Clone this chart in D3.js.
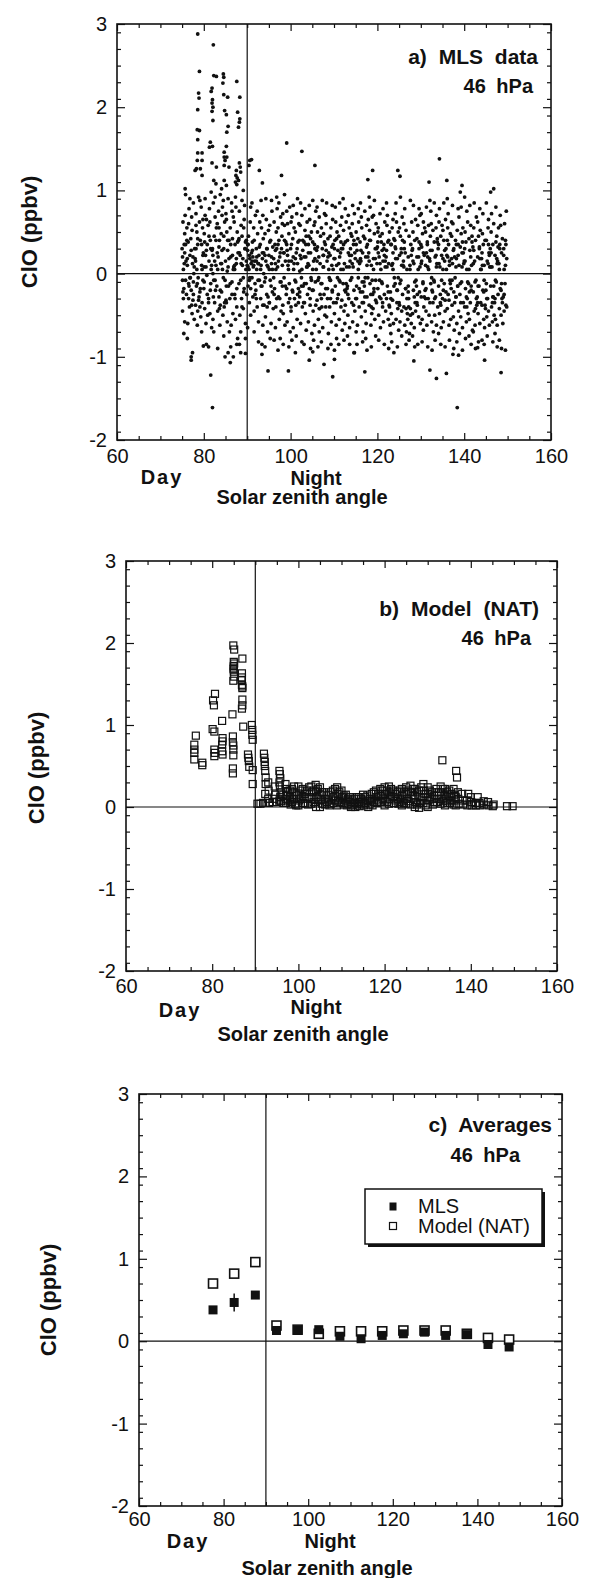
<!DOCTYPE html>
<html><head><meta charset="utf-8">
<script src="https://cdn.jsdelivr.net/npm/d3@7/dist/d3.min.js"></script>
<style>
html,body{margin:0;padding:0;background:#fff;}
svg{display:block;}
text{font-family:"Liberation Sans",Arial,Helvetica,sans-serif;fill:#111;}
</style></head><body>
<svg id="chart" width="593" height="1578"></svg>
<script>
// ---------------- DATA ----------------
const xTickValues = [60, 80, 100, 120, 140, 160];
const yTickValues = [-2, -1, 0, 1, 2, 3];
const yAxisTitle = "ClO (ppbv)";
const xAxisTitle = "Solar zenith angle";
const dayLabel = "Day", nightLabel = "Night";
const panelTitles = ["a) MLS data", "b) Model (NAT)", "c) Averages"];
const pressureLabel = "46 hPa";
const legendLabels = ["MLS", "Model (NAT)"];

// a) MLS individual retrievals, main band: [SZA in tenths of degree, ClO in hundredths of ppbv]
const mlsBand = [
[750,30],[751,-45],[752,62],[753,5],[754,-18],[755,35],[756,-58],[757,70],[758,-8],[759,15],[753,-30],[756,48],[754,-72],[758,95],[751,20],
[760,-25],[761,55],[762,10],[763,-60],[764,38],[765,-12],[766,78],[767,-40],[768,22],[769,-5],[762,-78],[765,60],[768,90],
[770,42],[771,-20],[772,68],[773,-48],[774,12],[775,-32],[776,85],[777,0],[778,-55],[779,30],[773,52],[776,-10],[771,-100],[774,-95],
[780,18],[781,-38],[782,72],[783,-15],[784,50],[785,-62],[786,35],[787,-5],[788,92],[789,-28],[782,58],[786,-45],[784,5],
[790,62],[791,-22],[792,40],[793,-52],[794,80],[795,10],[796,-35],[797,55],[798,-8],[799,25],[791,88],[795,-70],[798,65],
[800,-18],[801,48],[802,-42],[803,90],[804,22],[805,-60],[806,65],[807,-2],[808,35],[809,-50],[803,70],[806,-85],[801,8],
[810,58],[811,-30],[812,15],[813,78],[814,-48],[815,40],[816,-12],[817,98],[818,-65],[819,28],[814,62],[811,-88],[817,5],
[820,30],[821,-55],[822,85],[823,-8],[824,45],[825,-35],[826,68],[827,-20],[828,10],[829,55],[823,-70],[826,92],[821,0],
[830,-15],[831,60],[832,-45],[833,20],[834,75],[835,-28],[836,40],[837,-62],[838,95],[839,12],[832,-90],[835,55],[838,-38],
[840,48],[841,-22],[842,70],[843,5],[844,-50],[845,88],[846,30],[847,-40],[848,62],[849,-8],[843,80],[846,-75],[841,102],
[850,15],[851,72],[852,-35],[853,50],[854,-58],[855,28],[856,90],[857,-15],[858,40],[859,-70],[852,65],[856,-95],[854,3],
[860,-30],[861,55],[862,20],[863,-62],[864,85],[865,-10],[866,42],[867,-48],[868,68],[869,8],[862,-88],[865,75],[868,-100],
[870,62],[871,-25],[872,35],[873,-55],[874,80],[875,12],[876,-40],[877,50],[878,-78],[879,25],[873,92],[876,-85],[871,5],
[880,40],[881,-12],[882,75],[883,-50],[884,22],[885,-70],[886,58],[887,-30],[888,88],[889,10],[882,-85],[885,-95],[888,45],
[890,18],[891,-42],[892,55],[893,-18],[894,82],[895,30],[896,-60],[897,5],[898,40],[899,-25],[893,65],[896,-78],[891,100],
[900,10],[901,28],[902,-15],[903,45],[904,5],[905,-35],[906,18],[907,62],[908,-50],[909,12],[902,35],[905,-8],[908,80],[901,-65],
[910,25],[911,-5],[912,38],[913,-28],[914,8],[915,55],[916,-45],[917,15],[918,-12],[919,70],[913,20],[916,-70],[911,85],
[920,-20],[921,30],[922,5],[923,-40],[924,48],[925,12],[926,-58],[927,22],[928,-8],[929,62],[923,75],[926,-82],[921,15],
[930,35],[931,-30],[932,10],[933,55],[934,-15],[935,25],[936,-62],[937,42],[938,0],[939,-38],[932,88],[936,70],[934,-85],
[940,-10],[941,48],[942,-52],[943,15],[944,65],[945,-25],[946,30],[947,-70],[948,8],[949,52],[943,90],[946,-40],[941,-88],
[950,22],[951,-35],[952,58],[953,-8],[954,40],[955,-60],[956,12],[957,75],[958,-22],[959,32],[953,-78],[956,88],[951,5],
[960,-42],[961,18],[962,62],[963,-18],[964,35],[965,-65],[966,5],[967,50],[968,-30],[969,78],[962,-80],[965,28],[968,92],
[970,8],[971,55],[972,-28],[973,40],[974,-55],[975,20],[976,-10],[977,68],[978,-45],[979,30],[973,85],[976,-78],[971,-92],
[980,45],[981,-15],[982,72],[983,-48],[984,25],[985,-5],[986,58],[987,-62],[988,15],[989,38],[983,-85],[986,95],[981,60],
[990,-25],[991,35],[992,-58],[993,60],[994,10],[995,-35],[996,48],[997,-12],[998,80],[999,-70],[993,22],[996,-88],[991,75],
[1000,30],[1001,-45],[1002,15],[1003,68],[1004,-20],[1005,42],[1006,-65],[1007,5],[1008,55],[1009,-30],[1003,-80],[1006,82],[1001,62],
[1010,-8],[1011,50],[1012,-38],[1013,25],[1014,72],[1015,-55],[1016,12],[1017,38],[1018,-18],[1019,60],[1013,-75],[1016,90],[1011,-95],
[1020,40],[1021,-22],[1022,58],[1023,-60],[1024,18],[1025,-5],[1026,70],[1027,-40],[1028,28],[1029,-15],[1023,85],[1026,-82],[1021,3],
[1030,-35],[1031,20],[1032,-12],[1033,52],[1034,-48],[1035,35],[1036,-68],[1037,8],[1038,62],[1039,-25],[1033,78],[1036,45],[1031,-85],
[1040,12],[1041,-58],[1042,45],[1043,-18],[1044,65],[1045,-38],[1046,25],[1047,-5],[1048,50],[1049,-72],[1043,82],[1046,-90],[1041,35],
[1050,-20],[1051,38],[1052,-45],[1053,15],[1054,58],[1055,-62],[1056,30],[1057,-10],[1058,75],[1059,5],[1053,-80],[1056,62],[1051,88],
[1060,28],[1061,-32],[1062,50],[1063,-8],[1064,-55],[1065,20],[1066,68],[1067,-42],[1068,12],[1069,45],[1063,-88],[1066,-70],[1061,80],
[1070,-12],[1071,55],[1072,-40],[1073,30],[1074,-65],[1075,8],[1076,48],[1077,-25],[1078,72],[1079,-50],[1073,88],[1076,22],[1071,-82],
[1080,35],[1081,-18],[1082,60],[1083,-52],[1084,15],[1085,-30],[1086,42],[1087,-72],[1088,25],[1089,-5],[1083,85],[1086,-90],[1081,70],
[1090,-40],[1091,22],[1092,-8],[1093,55],[1094,-58],[1095,32],[1096,-20],[1097,65],[1098,5],[1099,-35],[1093,-85],[1096,82],[1091,45],
[1100,18],[1101,-48],[1102,40],[1103,-15],[1104,62],[1105,-62],[1106,10],[1107,50],[1108,-30],[1109,28],[1103,80],[1106,-78],[1101,-92],
[1110,-25],[1111,45],[1112,-55],[1113,20],[1114,-10],[1115,58],[1116,-40],[1117,30],[1118,68],[1119,-68],[1113,85],[1116,5],[1111,-85],
[1120,30],[1121,-12],[1122,52],[1123,-45],[1124,12],[1125,-60],[1126,38],[1127,-22],[1128,62],[1129,8],[1123,-80],[1126,78],[1121,90],
[1130,-18],[1131,40],[1132,-50],[1133,25],[1134,-30],[1135,55],[1136,-65],[1137,15],[1138,-8],[1139,48],[1133,70],[1136,-85],[1131,-75],
[1140,22],[1141,-35],[1142,60],[1143,-58],[1144,8],[1145,35],[1146,-20],[1147,72],[1148,-45],[1149,18],[1143,82],[1146,-95],[1141,45],
[1150,-30],[1151,50],[1152,-15],[1153,28],[1154,-62],[1155,42],[1156,-5],[1157,62],[1158,-40],[1159,12],[1153,-85],[1156,78],[1151,-70],
[1160,38],[1161,-22],[1162,15],[1163,-52],[1164,55],[1165,-35],[1166,25],[1167,-70],[1168,45],[1169,-10],[1163,68],[1166,-82],[1161,85],
[1170,-15],[1171,42],[1172,-45],[1173,20],[1174,-60],[1175,58],[1176,-28],[1177,35],[1178,-5],[1179,65],[1173,-78],[1176,-92],[1171,75],
[1180,25],[1181,-38],[1182,52],[1183,-12],[1184,40],[1185,-62],[1186,10],[1187,-48],[1188,68],[1189,-25],[1183,80],[1186,-88],[1181,92],
[1190,-42],[1191,18],[1192,-22],[1193,48],[1194,-55],[1195,30],[1196,-8],[1197,60],[1198,-35],[1199,12],[1193,88],[1196,-75],[1191,70],
[1200,32],[1201,-18],[1202,55],[1203,-50],[1204,20],[1205,-28],[1206,45],[1207,-65],[1208,5],[1209,38],[1203,-80],[1206,72],[1201,50],
[1210,-10],[1211,48],[1212,-40],[1213,15],[1214,-58],[1215,35],[1216,-25],[1217,62],[1218,8],[1219,-45],[1213,78],[1216,-85],[1211,28],
[1220,20],[1221,-30],[1222,58],[1223,-15],[1224,38],[1225,-55],[1226,12],[1227,-38],[1228,50],[1229,-62],[1223,70],[1226,-90],[1221,85],
[1230,-22],[1231,35],[1232,-48],[1233,10],[1234,55],[1235,-32],[1236,25],[1237,-60],[1238,42],[1239,-5],[1233,-82],[1236,65],[1231,-72],
[1240,40],[1241,-12],[1242,30],[1243,-55],[1244,62],[1245,-20],[1246,18],[1247,-42],[1248,50],[1249,-68],[1243,85],[1246,-88],[1241,72],
[1250,-35],[1251,22],[1252,-58],[1253,45],[1254,-8],[1255,30],[1256,-45],[1257,68],[1258,-25],[1259,10],[1253,92],[1256,-75],[1251,55],
[1260,15],[1261,-40],[1262,38],[1263,-62],[1264,25],[1265,-18],[1266,52],[1267,-70],[1268,5],[1269,-48],[1263,78],[1266,-85],[1261,60],
[1270,-55],[1271,20],[1272,-30],[1273,45],[1274,-72],[1275,10],[1276,-42],[1277,35],[1278,-60],[1279,62],[1273,-80],[1276,88],[1271,-15],
[1280,28],[1281,-48],[1282,50],[1283,-20],[1284,12],[1285,-65],[1286,40],[1287,-35],[1288,65],[1289,-8],[1283,82],[1286,-88],[1281,-75],
[1290,-15],[1291,42],[1292,-38],[1293,58],[1294,5],[1295,-52],[1296,30],[1297,-22],[1298,70],[1299,-60],[1293,-85],[1296,78],[1291,20],
[1300,35],[1301,-28],[1302,15],[1303,-55],[1304,48],[1305,-10],[1306,62],[1307,-40],[1308,22],[1309,55],[1303,-82],[1306,-68],[1301,72],
[1310,-20],[1311,50],[1312,-45],[1313,25],[1314,-62],[1315,38],[1316,8],[1317,-30],[1318,58],[1319,-50],[1313,80],[1316,-88],[1311,10],
[1320,18],[1321,-35],[1322,45],[1323,-12],[1324,60],[1325,-58],[1326,28],[1327,-22],[1328,52],[1329,-70],[1323,75],[1326,-92],[1321,88],
[1330,-8],[1331,38],[1332,-50],[1333,20],[1334,-28],[1335,55],[1336,-62],[1337,12],[1338,42],[1339,-40],[1333,-80],[1336,70],[1331,85],
[1340,30],[1341,-15],[1342,62],[1343,-48],[1344,8],[1345,-35],[1346,45],[1347,-65],[1348,22],[1349,58],[1343,78],[1346,-85],[1341,-72],
[1350,-30],[1351,18],[1352,-58],[1353,40],[1354,-12],[1355,28],[1356,-45],[1357,65],[1358,-22],[1359,5],[1353,85],[1356,-88],[1351,52],
[1360,22],[1361,-42],[1362,55],[1363,-25],[1364,35],[1365,-62],[1366,15],[1367,-8],[1368,48],[1369,-55],[1363,72],[1366,-80],[1361,90],
[1370,-18],[1371,45],[1372,-38],[1373,12],[1374,60],[1375,-52],[1376,30],[1377,-68],[1378,20],[1379,-5],[1373,82],[1376,-90],[1371,62],
[1380,40],[1381,-28],[1382,18],[1383,-60],[1384,52],[1385,-15],[1386,35],[1387,-45],[1388,68],[1389,-72],[1383,-82],[1386,78],[1381,8],
[1390,-25],[1391,32],[1392,-52],[1393,48],[1394,-10],[1395,25],[1396,-65],[1397,55],[1398,-35],[1399,12],[1393,80],[1396,-92],[1391,98],
[1400,15],[1401,-40],[1402,50],[1403,-18],[1404,38],[1405,-58],[1406,5],[1407,-30],[1408,62],[1409,-48],[1403,-78],[1406,75],[1401,92],
[1410,-12],[1411,42],[1412,-55],[1413,28],[1414,-35],[1415,58],[1416,-20],[1417,10],[1418,45],[1419,-68],[1413,82],[1416,-85],[1411,-75],
[1420,32],[1421,-22],[1422,55],[1423,-45],[1424,15],[1425,-62],[1426,40],[1427,-8],[1428,68],[1429,-38],[1423,85],[1426,-90],[1421,-70],
[1430,-28],[1431,20],[1432,-48],[1433,45],[1434,-15],[1435,30],[1436,-60],[1437,52],[1438,-35],[1439,5],[1433,-82],[1436,78],[1431,62],
[1440,18],[1441,-38],[1442,48],[1443,-20],[1444,35],[1445,-55],[1446,10],[1447,-65],[1448,40],[1449,-42],[1443,72],[1446,-85],[1441,-80],
[1450,-20],[1451,40],[1452,-52],[1453,15],[1454,-30],[1455,55],[1456,-45],[1457,25],[1458,-62],[1459,8],[1453,-75],[1456,65],[1451,85],
[1460,30],[1461,-15],[1462,50],[1463,-40],[1464,8],[1465,-58],[1466,35],[1467,-28],[1468,60],[1469,-50],[1463,72],[1466,-82],[1461,98],
[1470,-35],[1471,22],[1472,-55],[1473,38],[1474,-10],[1475,45],[1476,-62],[1477,15],[1478,-25],[1479,55],[1473,80],[1476,-88],[1471,-72],
[1480,12],[1481,-42],[1482,35],[1483,-18],[1484,58],[1485,-50],[1486,25],[1487,-30],[1488,42],[1489,-60],[1483,70],[1486,-90],[1481,-80],
[1490,-28],[1491,30],[1492,-45],[1493,60],[1494,-12],[1495,40],[1496,-38],[1497,75],[1498,18],[1495,-92],[1492,5]
];
// a) MLS denser core of the band (same units)
const mlsCore = [
[755,12],[752,-22],[758,35],[751,-8],[756,25],[765,-30],[762,18],[768,-5],[761,40],[766,-15],
[775,20],[772,-38],[778,8],[771,28],[776,-25],[785,-12],[782,30],[788,-32],[781,15],[786,42],
[795,35],[792,-18],[798,22],[791,-40],[796,5],[805,8],[802,38],[808,-25],[801,-10],[806,28],
[815,-20],[812,45],[818,10],[811,-35],[816,30],[825,15],[822,-28],[828,40],[821,22],[826,-8],
[835,32],[832,5],[838,-20],[831,25],[836,-42],[845,-5],[842,28],[848,-35],[841,12],[846,45],
[855,40],[852,-15],[858,18],[851,-32],[856,8],[865,-25],[862,35],[868,5],[861,-12],[866,22],
[875,18],[872,-30],[878,38],[871,10],[876,-18],[885,-8],[882,25],[888,-40],[881,42],[886,12],
[895,30],[892,-22],[898,15],[891,-5],[896,38],[905,22],[902,8],[908,-18],[901,35],[906,-5],
[915,10],[912,28],[918,-25],[911,15],[916,40],[925,-8],[922,20],[928,32],[921,-30],[926,12],
[935,18],[932,-15],[938,25],[931,5],[936,-38],[945,30],[942,-5],[948,-28],[941,22],[946,10],
[955,-15],[952,38],[958,5],[951,-35],[956,20],[965,12],[962,-25],[968,30],[961,-5],[966,-40],
[975,-30],[972,15],[978,-10],[971,35],[976,25],[985,25],[982,-38],[988,-15],[981,10],[986,40],
[995,5],[992,28],[998,-30],[991,-18],[996,15],[1005,-22],[1002,35],[1008,12],[1001,-40],[1006,20],
[1015,30],[1012,-10],[1018,-35],[1011,18],[1016,-25],[1025,-15],[1022,22],[1028,40],[1021,-28],[1026,5],
[1035,20],[1032,-35],[1038,8],[1031,38],[1036,-12],[1045,-30],[1042,10],[1048,-8],[1041,25],[1046,42],
[1055,35],[1052,-20],[1058,-38],[1051,5],[1056,18],[1065,-5],[1062,32],[1068,-25],[1061,15],[1066,-42],
[1075,22],[1072,-12],[1078,38],[1071,-30],[1076,8],[1085,-18],[1082,28],[1088,5],[1081,-40],[1086,20],
[1095,10],[1092,-30],[1098,35],[1091,-8],[1096,-22],[1105,-35],[1102,18],[1108,-5],[1101,30],[1106,42],
[1115,25],[1112,-8],[1118,-32],[1111,12],[1116,38],[1125,-20],[1122,35],[1128,-12],[1121,5],[1126,-38],
[1135,8],[1132,-25],[1138,30],[1131,-15],[1136,22],[1145,-38],[1142,12],[1148,25],[1141,-5],[1146,40],
[1155,15],[1152,-30],[1158,-18],[1151,35],[1156,5],[1165,-10],[1162,28],[1168,-35],[1161,18],[1166,-22],
[1175,32],[1172,-5],[1178,20],[1171,-28],[1176,10],[1185,-25],[1182,40],[1188,-8],[1181,15],[1186,-40],
[1195,18],[1192,-18],[1198,30],[1191,5],[1196,-32],[1205,-8],[1202,25],[1208,-30],[1201,38],[1206,12],
[1215,30],[1212,-35],[1218,15],[1211,-12],[1216,22],[1225,-22],[1222,8],[1228,-40],[1221,28],[1226,40],
[1235,12],[1232,35],[1238,-15],[1231,-30],[1236,5],[1245,-35],[1242,18],[1248,-5],[1241,32],[1246,-20],
[1255,25],[1252,-12],[1258,40],[1251,-38],[1256,10],[1265,-18],[1262,30],[1268,-30],[1261,8],[1266,-42],
[1275,5],[1272,-40],[1278,22],[1271,-22],[1276,-50],[1285,-28],[1282,15],[1288,-45],[1281,30],[1286,-10],
[1295,20],[1292,-25],[1298,8],[1291,-35],[1296,38],[1305,-12],[1302,32],[1308,-28],[1301,12],[1306,25],
[1315,35],[1312,-18],[1318,5],[1311,-30],[1316,20],[1325,-5],[1322,28],[1328,-35],[1321,15],[1326,-20],
[1335,22],[1332,-30],[1338,38],[1331,-10],[1336,8],[1345,-25],[1342,12],[1348,-8],[1341,35],[1346,-38],
[1355,15],[1352,-20],[1358,30],[1351,5],[1356,-32],[1365,-32],[1362,20],[1368,-12],[1361,40],[1366,10],
[1375,28],[1372,-8],[1378,-35],[1371,18],[1376,-22],[1385,-15],[1382,35],[1388,10],[1381,-28],[1386,22],
[1395,8],[1392,-35],[1398,25],[1391,-12],[1396,38],[1405,-28],[1402,15],[1408,-10],[1401,30],[1406,-40],
[1415,20],[1412,-22],[1418,38],[1411,5],[1416,-15],[1425,-10],[1422,28],[1428,-30],[1421,12],[1426,-42],
[1435,32],[1432,-15],[1438,5],[1431,-35],[1436,18],[1445,-22],[1442,10],[1448,-38],[1441,25],[1446,-8],
[1455,12],[1452,-30],[1458,22],[1451,-12],[1456,35],[1465,-35],[1462,25],[1468,-15],[1461,8],[1466,-28],
[1475,18],[1472,-8],[1478,32],[1471,-30],[1476,12],[1485,-20],[1482,30],[1488,-35],[1481,5],[1486,-12],
[1495,10],[1492,-25],[1498,-40],[1491,22],[1496,35]
];
// a) MLS outliers: [SZA deg, ClO ppbv]
const mlsOutliers = [
[78.6,2.88],[82.2,2.75],[79.0,2.43],[82.3,2.38],[82.9,2.37],[84.5,2.40],[84.6,2.36],[87.6,2.31],[84.4,2.29],[78.8,2.17],
[78.9,2.11],[81.9,2.23],[81.7,2.19],[84.6,2.15],[85.5,2.12],[88.3,2.12],[82.0,2.09],[81.9,2.05],[82.1,2.00],[78.6,1.97],
[81.9,1.95],[84.8,1.96],[85.2,1.91],[87.8,1.94],[88.3,1.86],[88.2,1.82],[88.0,1.76],[82.1,1.84],[78.5,1.73],[79.0,1.72],
[85.6,1.77],[85.3,1.70],[78.6,1.61],[81.5,1.58],[82.0,1.53],[81.3,1.52],[85.2,1.53],[84.7,1.46],[78.6,1.45],[79.6,1.45],
[84.7,1.40],[85.3,1.40],[84.9,1.36],[78.5,1.36],[79.6,1.36],[78.3,1.26],[78.0,1.24],[79.2,1.26],[81.9,1.33],[82.9,1.28],
[84.7,1.30],[85.8,1.28],[88.2,1.33],[88.4,1.28],[88.5,1.22],[90.6,1.36],[90.4,1.30],[92.8,1.24],[79.6,1.18],[87.5,1.24],
[87.4,1.18],[87.7,1.15],[87.3,1.10],[88.0,1.12],[87.6,1.07],[82.3,1.12],[82.8,1.08],[84.7,1.12],[85.2,1.06],[93.5,1.09],
[97.9,1.18],[99.1,1.57],[102.6,1.47],[75.7,1.02],[105.6,1.30],[118.9,1.24],[124.7,1.24],[131.9,1.10],[134.3,1.38],[136.0,1.12],
[139.5,1.06],[146.8,1.02],[125.2,1.17],[117.8,1.13],[91.0,1.37],
[81.6,-1.22],[82.0,-1.61],[94.8,-1.17],[99.5,-1.17],[107.7,-1.09],[109.7,-1.24],[117.1,-1.18],[132.1,-1.16],[133.6,-1.26],[135.9,-1.20],
[138.4,-1.61],[144.7,-1.04],[148.5,-1.19],[128.4,-1.05],[143.1,-0.89],[123.8,-0.95],[114.7,-0.95],[110.1,-1.03],[104.3,-1.04],[105.1,-0.94],
[93.4,-0.97],[77.1,-1.04],[84.9,-1.00],[86.1,-1.07],[79.9,-0.87],[89.6,-0.96],[137.4,-0.97],[138.7,-0.98]
];

// b) Model (NAT): [SZA deg, ClO ppbv]
const modelDay = [
[75.85,0.76],[75.85,0.70],[75.85,0.66],[75.85,0.58],[76.2,0.87],[77.7,0.54],[77.7,0.51],[80.1,0.95],[80.5,0.92],[80.65,1.38],
[80.2,1.30],[80.4,1.24],[80.5,0.70],[80.6,0.66],[80.5,0.62],[82.3,1.05],[82.4,0.84],[82.4,0.80],[82.3,0.76],[82.3,0.68],
[82.4,0.64],[84.7,1.13],[84.9,1.97],[85.1,1.92],[85.0,1.77],[85.0,1.72],[85.0,1.65],[85.1,1.59],[84.9,1.54],[87.0,1.81],
[86.9,1.63],[86.9,1.58],[86.9,1.49],[87.0,1.47],[84.8,0.86],[84.8,0.79],[84.9,0.75],[84.9,0.70],[84.9,0.63],[84.8,0.47],
[84.8,0.41],[87.0,1.31],[87.0,1.24],[86.9,1.20],[87.2,0.98],[88.3,0.64],[88.4,0.60],[88.5,0.56],[88.6,0.49],[89.2,1.00],
[89.3,0.94],[89.3,0.88],[89.4,0.82],[89.4,0.45],[89.4,0.28],[85.0,1.70],[85.1,1.75],[84.95,1.68],[86.8,1.55],[87.0,1.45]
];
const modelNight = [
[90.5,0.04],[91.2,0.04],[91.8,0.05],[92.4,0.05],[93.2,0.05],[94.0,0.06],[95.0,0.06],[96.0,0.07],
[92.0,0.65],[92.1,0.60],[92.2,0.55],[92.2,0.50],[92.3,0.44],[92.4,0.36],[92.4,0.28],[92.3,0.16],
[93.0,0.30],[93.1,0.20],[93.0,0.10],[95.6,0.44],[95.7,0.40],[95.8,0.35],[95.6,0.30],[95.7,0.25],[95.9,0.18],[95.8,0.12],[95.6,0.08],
[94.5,0.25],[94.6,0.15],[94.4,0.10],[97.0,0.28],[97.1,0.22],[97.2,0.15],[97.0,0.10],[97.1,0.05],
[98.0,0.20],[98.1,0.12],[98.0,0.08],[98.2,0.03],[99.0,0.25],[99.1,0.18],[99.0,0.10],[99.2,0.04],
[100.0,0.25],[100.1,0.15],[100.2,0.08],[100.0,0.02],[101.0,0.22],[101.2,0.12],[101.1,0.05],
[102.0,0.20],[102.1,0.10],[102.2,0.03],[103.0,0.25],[103.1,0.18],[103.2,0.10],[103.0,0.04],
[104.0,0.27],[104.1,0.20],[104.2,0.12],[104.0,0.06],[104.1,0.00],[105.0,0.24],[105.1,0.15],[105.2,0.08],[105.0,0.00],
[106.0,0.18],[106.1,0.10],[106.2,0.03],[107.0,0.15],[107.1,0.08],[107.2,0.02],[108.0,0.20],[108.1,0.12],[108.2,0.05],
[109.0,0.24],[109.1,0.16],[109.2,0.08],[109.0,0.02],[110.0,0.20],[110.1,0.12],[110.2,0.05],[111.0,0.15],[111.1,0.08],[111.2,0.02],
[112.0,0.12],[112.1,0.06],[112.2,0.00],[113.0,0.10],[113.1,0.05],[113.2,0.00],[114.0,0.12],[114.1,0.06],[114.2,0.01],
[115.0,0.15],[115.1,0.08],[115.2,0.02],[116.0,0.14],[116.1,0.07],[116.2,0.00],[117.0,0.16],[117.1,0.08],[117.2,0.02],
[118.0,0.20],[118.1,0.12],[118.2,0.05],[119.0,0.22],[119.1,0.14],[119.2,0.06],[120.0,0.24],[120.1,0.16],[120.2,0.08],[120.0,0.02],
[121.0,0.25],[121.1,0.18],[121.2,0.10],[121.0,0.04],[122.0,0.20],[122.1,0.12],[122.2,0.05],[123.0,0.18],[123.1,0.10],[123.2,0.04],
[124.0,0.22],[124.1,0.15],[124.2,0.08],[124.0,0.02],[125.0,0.24],[125.1,0.16],[125.2,0.10],[125.0,0.04],
[126.0,0.26],[126.1,0.18],[126.2,0.10],[126.0,0.03],[127.0,0.22],[127.1,0.14],[127.2,0.06],[127.0,0.00],
[128.0,0.20],[128.1,0.12],[128.2,0.05],[128.0,-0.01],[129.0,0.28],[129.1,0.20],[129.2,0.12],[129.0,0.05],
[130.0,0.24],[130.1,0.16],[130.2,0.08],[130.0,0.00],[131.0,0.18],[131.1,0.10],[131.2,0.03],[132.0,0.22],[132.1,0.14],[132.2,0.06],
[133.4,0.57],[133.0,0.25],[133.1,0.18],[133.2,0.10],[133.0,0.04],[134.0,0.22],[134.1,0.15],[134.2,0.08],[134.0,0.02],
[135.0,0.20],[135.1,0.12],[135.2,0.05],[136.6,0.44],[136.8,0.36],[136.0,0.22],[136.1,0.15],[136.2,0.08],[136.0,0.03],
[137.0,0.18],[137.1,0.10],[137.2,0.04],[138.0,0.16],[138.1,0.08],[138.2,0.03],[139.4,0.16],[139.1,0.08],[139.2,0.02],
[140.0,0.12],[140.1,0.06],[140.2,0.02],[141.6,0.12],[141.1,0.05],[141.2,0.02],[142.0,0.05],[142.1,0.02],
[143.0,0.07],[143.1,0.03],[144.0,0.06],[144.1,0.02],[145.3,0.03],[145.1,0.01],[148.4,0.01],[149.7,0.01],
[96.5,0.15],[96.5,0.05],[97.5,0.18],[97.5,0.08],[98.5,0.22],[98.5,0.06],[99.5,0.14],[99.5,0.02],[100.5,0.20],[100.5,0.10],
[101.5,0.16],[101.5,0.04],[102.5,0.24],[102.5,0.12],[103.5,0.20],[103.5,0.06],[104.5,0.22],[104.5,0.10],[105.5,0.18],[105.5,0.04],
[106.5,0.14],[106.5,0.06],[107.5,0.18],[107.5,0.04],[108.5,0.22],[108.5,0.08],[109.5,0.18],[109.5,0.06],[110.5,0.14],[110.5,0.03],
[111.5,0.10],[111.5,0.04],[112.5,0.08],[112.5,0.02],[113.5,0.12],[113.5,0.03],[114.5,0.10],[114.5,0.04],[115.5,0.12],[115.5,0.05],
[116.5,0.10],[116.5,0.03],[117.5,0.18],[117.5,0.06],[118.5,0.16],[118.5,0.08],[119.5,0.20],[119.5,0.10],[120.5,0.20],[120.5,0.06],
[121.5,0.22],[121.5,0.14],[122.5,0.16],[122.5,0.08],[123.5,0.20],[123.5,0.06],[124.5,0.18],[124.5,0.05],[125.5,0.20],[125.5,0.07],
[126.5,0.22],[126.5,0.14],[127.5,0.18],[127.5,0.03],[128.5,0.24],[128.5,0.08],[129.5,0.16],[129.5,0.02],[130.5,0.20],[130.5,0.12],
[131.5,0.14],[131.5,0.06],[132.5,0.18],[132.5,0.10],[133.5,0.22],[133.5,0.07],[134.5,0.18],[134.5,0.05],[135.5,0.16],[135.5,0.08],
[136.5,0.12],[136.5,0.02]
];

// c) Averages in 5-degree SZA bins
const avgSza   = [77.5, 82.5, 87.5, 92.5, 97.5, 102.5, 107.5, 112.5, 117.5, 122.5, 127.5, 132.5, 137.5, 142.5, 147.5];
const avgMls   = [0.38, 0.47, 0.56, 0.13, 0.13, 0.14, 0.06, 0.03, 0.07, 0.09, 0.11, 0.07, 0.08, -0.04, -0.07];
const avgMlsErr= [0.03, 0.11, 0.03, 0.02, 0.02, 0.02, 0.02, 0.02, 0.02, 0.02, 0.02, 0.02, 0.02, 0.02, 0.02];
const avgModel = [0.70, 0.82, 0.96, 0.19, 0.14, 0.09, 0.12, 0.12, 0.12, 0.13, 0.13, 0.13, 0.09, 0.04, 0.02];

// ---------------- LAYOUT ----------------
const panels = [
  {L:117,R:551,T:24,B:440, yl:{x:37,y:232}, tickPad:9, day:{x:162,y:484}, night:{x:316,y:485}, sza:{x:302,y:504},
   title:{x:538,y:64}, hpa:{x:533,y:93}},
  {L:126,R:557,T:561,B:971, yl:{x:44,y:768}, tickPad:8, day:{x:180,y:1017}, night:{x:316,y:1014}, sza:{x:303,y:1041},
   title:{x:539,y:616}, hpa:{x:531,y:645}},
  {L:139,R:562,T:1094,B:1506, yl:{x:56,y:1300}, tickPad:6, day:{x:188,y:1548}, night:{x:330,y:1548}, sza:{x:327,y:1575},
   title:{x:552,y:1132}, hpa:{x:520,y:1162}}
];

const svg = d3.select("#chart");
svg.append("rect").attr("width",593).attr("height",1578).attr("fill","#fff");
const ink = "#111";

function setupPanel(p, idx){
  const x = d3.scaleLinear().domain([60,160]).range([p.L,p.R]);
  const y = d3.scaleLinear().domain([-2,3]).range([p.B,p.T]);
  const g = svg.append("g");
  const xMinor = d3.range(65,160,5).filter(v => v % 20 !== 0);
  const yMinor = d3.range(-19,30,2).map(v => v/10).filter(v => Math.abs(v - Math.round(v)) > 1e-6);
  const fmt = d => String(d);
  const style = sel => { sel.select(".domain").remove(); sel.selectAll("line").attr("stroke",ink).attr("stroke-width",1.2);
    sel.selectAll("text").attr("font-size",20).attr("fill",ink).style("font-family","'Liberation Sans',Arial,sans-serif"); };
  g.append("g").attr("transform",`translate(${p.L},0)`)
    .call(d3.axisLeft(y).tickValues(yTickValues).tickSizeInner(-8).tickSizeOuter(0).tickPadding(10).tickFormat(fmt)).call(style);
  g.append("g").attr("transform",`translate(${p.L},0)`)
    .call(d3.axisLeft(y).tickValues(yMinor).tickSizeInner(-4).tickSizeOuter(0).tickFormat("")).call(style);
  g.append("g").attr("transform",`translate(${p.R},0)`)
    .call(d3.axisRight(y).tickValues(yTickValues).tickSizeInner(-8).tickSizeOuter(0).tickFormat("")).call(style);
  g.append("g").attr("transform",`translate(${p.R},0)`)
    .call(d3.axisRight(y).tickValues(yMinor).tickSizeInner(-4).tickSizeOuter(0).tickFormat("")).call(style);
  g.append("g").attr("transform",`translate(0,${p.B})`)
    .call(d3.axisBottom(x).tickValues(xTickValues).tickSizeInner(-7).tickSizeOuter(0).tickPadding(p.tickPad).tickFormat(fmt)).call(style);
  g.append("g").attr("transform",`translate(0,${p.B})`)
    .call(d3.axisBottom(x).tickValues(xMinor).tickSizeInner(-4).tickSizeOuter(0).tickFormat("")).call(style);
  g.append("g").attr("transform",`translate(0,${p.T})`)
    .call(d3.axisTop(x).tickValues(xTickValues).tickSizeInner(-7).tickSizeOuter(0).tickFormat("")).call(style);
  g.append("g").attr("transform",`translate(0,${p.T})`)
    .call(d3.axisTop(x).tickValues(xMinor).tickSizeInner(-4).tickSizeOuter(0).tickFormat("")).call(style);
  g.append("rect").attr("x",p.L).attr("y",p.T).attr("width",p.R-p.L).attr("height",p.B-p.T)
    .attr("fill","none").attr("stroke",ink).attr("stroke-width",1.6);
  g.append("line").attr("x1",p.L).attr("x2",p.R).attr("y1",y(0)).attr("y2",y(0)).attr("stroke",ink).attr("stroke-width",1.2);
  g.append("line").attr("x1",x(90)).attr("x2",x(90)).attr("y1",p.T).attr("y2",p.B).attr("stroke",ink).attr("stroke-width",1.2);
  g.append("text").attr("transform",`translate(${p.yl.x},${p.yl.y}) rotate(-90)`).attr("text-anchor","middle")
    .attr("font-size",22).attr("font-weight","bold").text(yAxisTitle);
  g.append("text").attr("x",p.day.x).attr("y",p.day.y).attr("text-anchor","middle").attr("font-size",20)
    .attr("font-weight","bold").attr("letter-spacing",2).text(dayLabel);
  g.append("text").attr("x",p.night.x).attr("y",p.night.y).attr("text-anchor","middle").attr("font-size",20)
    .attr("font-weight","bold").text(nightLabel);
  g.append("text").attr("x",p.sza.x).attr("y",p.sza.y).attr("text-anchor","middle").attr("font-size",20)
    .attr("font-weight","bold").text(xAxisTitle);
  g.append("text").attr("x",p.title.x).attr("y",p.title.y).attr("text-anchor","end").attr("font-size",21)
    .attr("font-weight","bold").attr("word-spacing",6).text(panelTitles[idx]);
  g.append("text").attr("x",p.hpa.x).attr("y",p.hpa.y).attr("text-anchor","end").attr("font-size",20)
    .attr("font-weight","bold").attr("word-spacing",5).text(pressureLabel);
  return {x, y, g};
}

// Panel a
{
  const {x, y, g} = setupPanel(panels[0], 0);
  const pts = mlsBand.concat(mlsCore).map(d => [d[0]/10, d[1]/100]).concat(mlsOutliers);
  g.append("g").selectAll("circle").data(pts).join("circle")
    .attr("cx", d => x(d[0])).attr("cy", d => y(d[1])).attr("r", 1.9).attr("fill", ink);
}
// Panel b
{
  const {x, y, g} = setupPanel(panels[1], 1);
  const s = 7;
  g.append("g").selectAll("rect").data(modelDay.concat(modelNight)).join("rect")
    .attr("x", d => x(d[0]) - s/2).attr("y", d => y(d[1]) - s/2).attr("width", s).attr("height", s)
    .attr("fill","none").attr("stroke", ink).attr("stroke-width", 1.2);
}
// Panel c
{
  const p = panels[2];
  const {x, y, g} = setupPanel(p, 2);
  const s = 9;
  g.append("g").selectAll("rect").data(avgSza).join("rect")
    .attr("x", d => x(d) - s/2).attr("y", (d,i) => y(avgModel[i]) - s/2).attr("width", s).attr("height", s)
    .attr("fill","#fff").attr("stroke", ink).attr("stroke-width", 1.6);
  g.append("g").selectAll("line").data(avgSza).join("line")
    .attr("x1", d => x(d)).attr("x2", d => x(d))
    .attr("y1", (d,i) => y(avgMls[i] - avgMlsErr[i])).attr("y2", (d,i) => y(avgMls[i] + avgMlsErr[i]))
    .attr("stroke", ink).attr("stroke-width", 1.5);
  g.append("g").selectAll("rect").data(avgSza).join("rect")
    .attr("x", d => x(d) - s/2).attr("y", (d,i) => y(avgMls[i]) - s/2).attr("width", s).attr("height", s)
    .attr("fill", ink);
  const lg = g.append("g").attr("transform","translate(365,1189)");
  lg.append("rect").attr("x",3).attr("y",3).attr("width",177).attr("height",55).attr("fill",ink);
  lg.append("rect").attr("x",0).attr("y",0).attr("width",177).attr("height",55).attr("fill","#fff").attr("stroke",ink).attr("stroke-width",1.5);
  lg.append("rect").attr("x",24.5).attr("y",13.5).attr("width",7).attr("height",8).attr("fill",ink);
  lg.append("rect").attr("x",24.5).attr("y",33.5).attr("width",7).attr("height",7).attr("fill","#fff").attr("stroke",ink).attr("stroke-width",1.2);
  lg.append("text").attr("x",53).attr("y",24).attr("font-size",20).text(legendLabels[0]);
  lg.append("text").attr("x",53).attr("y",44).attr("font-size",20).text(legendLabels[1]);
}
</script>
</body></html>
